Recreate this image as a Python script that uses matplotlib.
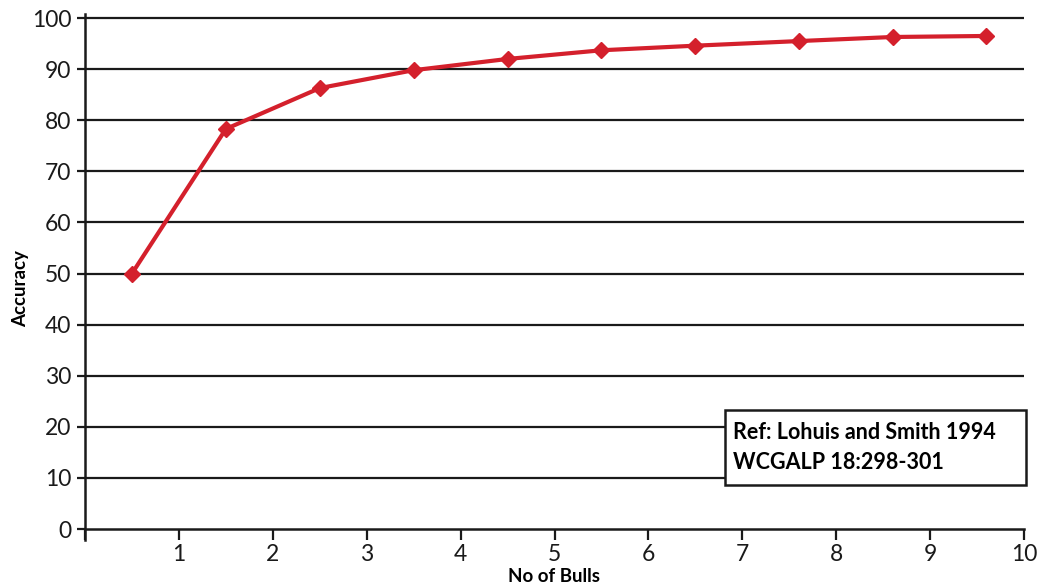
import matplotlib
matplotlib.use("Agg")
import matplotlib.pyplot as plt
from matplotlib.patches import Rectangle

bulls = [0.5, 1.5, 2.5, 3.5, 4.5, 5.5, 6.5, 7.6, 8.6, 9.6]
accuracy = [50, 78.3, 86.3, 89.8, 92.0, 93.7, 94.6, 95.5, 96.3, 96.5]
x_ticks = list(range(0, 11))
x_tick_labels = [""] + [str(i) for i in range(1, 11)]
y_ticks = list(range(0, 101, 10))

plt.rcParams['font.family'] = ['Lato', 'DejaVu Sans']

fig = plt.figure(figsize=(10.38, 5.86), dpi=100)
ax = fig.add_axes([85/1038, 1-529/586, (1024-85)/1038, (529-14)/586])

for y in y_ticks[1:]:
    ax.axhline(y, color='#1a1a1a', lw=1.6, zorder=1)

ax.plot(bulls, accuracy, color='#d4202c', lw=3, marker='D', markersize=8.5,
        zorder=3, clip_on=False)

ax.set_xlim(0, 10)
ax.set_ylim(0, 100.8)
ax.set_xticks(x_ticks)
ax.set_xticklabels(x_tick_labels)
ax.set_yticks(y_ticks)

for s in ['top', 'right']:
    ax.spines[s].set_visible(False)
for s in ['left', 'bottom']:
    ax.spines[s].set_linewidth(1.8)
    ax.spines[s].set_color('#1a1a1a')
ax.spines['left'].set_bounds(-2.2, 100.8)

ax.tick_params(axis='y', length=6, width=1.6, labelsize=16.5, pad=4, colors='#1a1a1a')
ax.tick_params(axis='x', length=8, width=1.6, labelsize=16.5, pad=3, colors='#1a1a1a')

ax.set_xlabel('No of Bulls', fontsize=13.5, fontweight='bold', labelpad=2)
ax.set_ylabel('Accuracy', fontsize=13.5, fontweight='bold')
ax.yaxis.set_label_coords(-0.060, 0.466)

box_x0 = (725 - 85) / 939
box_w = 301 / 939
box_y0 = (529 - 485) / 515
box_h = 75 / 515
ax.add_patch(Rectangle((box_x0, box_y0), box_w, box_h, transform=ax.transAxes,
                       fc='white', ec='#1a1a1a', lw=1.8, zorder=4, clip_on=False))
ax.text(box_x0 + 8/939, box_y0 + box_h/2, 'Ref: Lohuis and Smith 1994\nWCGALP 18:298-301',
        transform=ax.transAxes, fontsize=15.5, fontweight='bold',
        va='center', ha='left', linespacing=1.5, zorder=5)

fig.savefig('out.png', dpi=100)
